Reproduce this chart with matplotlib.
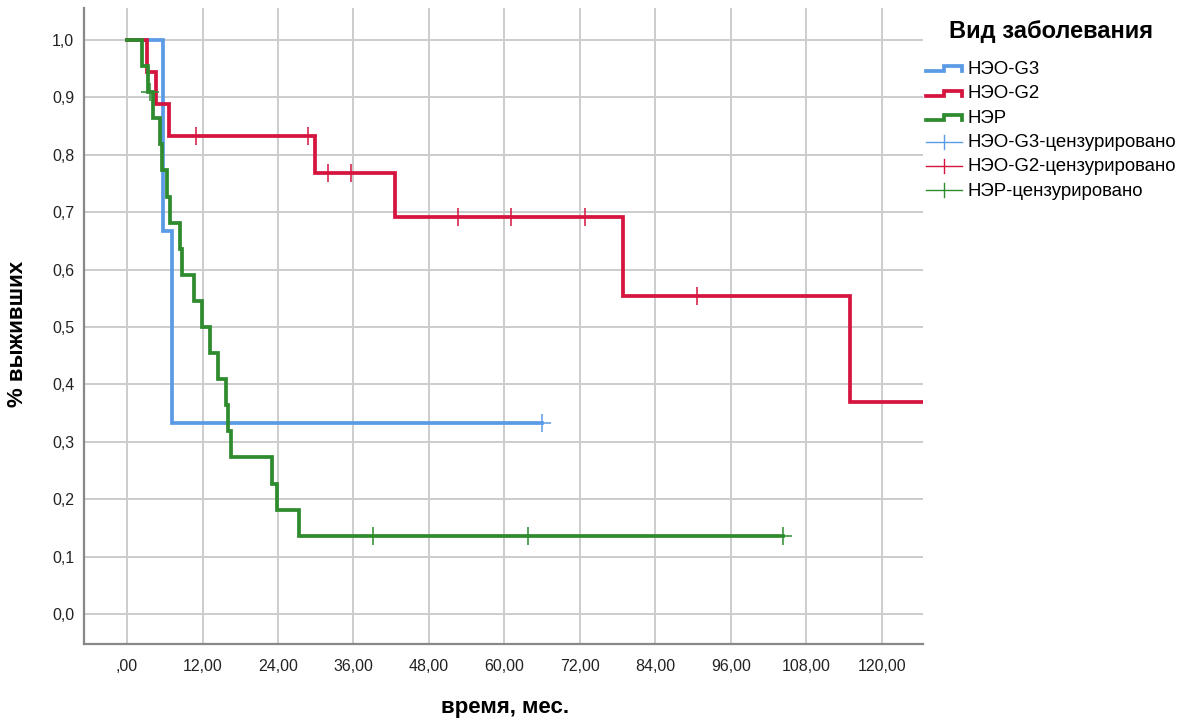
import matplotlib
matplotlib.use("Agg")
import matplotlib.pyplot as plt
import numpy as np
from matplotlib.lines import Line2D
from matplotlib.legend_handler import HandlerBase

plt.rcParams['font.family'] = ['Liberation Sans', 'DejaVu Sans']

# ---- data ----
g3_times = [0, 5.77, 7.15]
g3_surv = [1.0, 0.667, 0.333]
g3_end = 66.0
g3_cens = [66.0]

g2_times = [0, 3.1, 4.6, 6.7, 29.9, 42.6, 78.9, 115.0]
g2_surv = [1.0, 0.944, 0.889, 0.833, 0.769, 0.692, 0.554, 0.369]
g2_end = 130.0
g2_cens = [10.9, 28.8, 32.0, 35.6, 52.6, 61.0, 72.8, 90.6]

ner_times = [0, 2.4, 3.4, 4.1, 5.2, 5.5, 6.4, 6.8, 8.5, 8.7, 10.7, 11.9,
             13.2, 14.5, 15.8, 16.0, 16.5, 23.1, 23.8, 27.3]
ner_surv = [1.0, 0.955, 0.909, 0.864, 0.818, 0.773, 0.727, 0.682, 0.636,
            0.591, 0.545, 0.5, 0.455, 0.409, 0.364, 0.318, 0.273, 0.227,
            0.182, 0.136]
ner_end = 104.3
ner_cens = [3.7, 39.1, 63.8, 104.3]

x_ticks = [0, 12, 24, 36, 48, 60, 72, 84, 96, 108, 120]
x_ticklabels = [',00', '12,00', '24,00', '36,00', '48,00', '60,00', '72,00',
                '84,00', '96,00', '108,00', '120,00']
y_ticks = [0.0, 0.1, 0.2, 0.3, 0.4, 0.5, 0.6, 0.7, 0.8, 0.9, 1.0]
y_ticklabels = ['0,0', '0,1', '0,2', '0,3', '0,4', '0,5', '0,6', '0,7', '0,8', '0,9', '1,0']

names = ['НЭО-G3', 'НЭО-G2', 'НЭР']
cens_names = ['НЭО-G3-цензурировано', 'НЭО-G2-цензурировано', 'НЭР-цензурировано']
colors = ['#5B9BE6', '#D5143F', '#2E8C2E']

series = [
    (g3_times, g3_surv, g3_end, g3_cens),
    (g2_times, g2_surv, g2_end, g2_cens),
    (ner_times, ner_surv, ner_end, ner_cens),
]

fig = plt.figure(figsize=(11.88, 7.22), dpi=100)
ax = fig.add_axes([84 / 1188, 1 - 644 / 722, (923 - 84) / 1188, (644 - 8) / 722])

line_handles = []
cens_handles = []
for i, ((t, s, end, cens), c) in enumerate(zip(series, colors)):
    tt = list(t) + [end]
    ss = list(s) + [s[-1]]
    ln, = ax.step(tt, ss, where='post', color=c, lw=2.7, zorder=3 + i,
                  solid_joinstyle='miter')
    line_handles.append(ln)
    idx = np.searchsorted(t, cens, side='right') - 1
    cs = [s[k] for k in idx]
    cm, = ax.plot(cens, cs, linestyle='none', marker='+', markersize=13,
                  markeredgewidth=1.1, color=c, zorder=3 + i)
    cens_handles.append(cm)

ax.set_xlim(-6.84, 126.55)
ax.set_ylim(-0.0523, 1.0557)
ax.set_xticks(x_ticks)
ax.set_xticklabels(x_ticklabels)
ax.set_yticks(y_ticks)
ax.set_yticklabels(y_ticklabels)
ax.tick_params(axis='both', length=0, labelsize=11.5, colors='#222222')
ax.tick_params(axis='x', pad=11)
ax.tick_params(axis='y', pad=7)
ax.grid(True, color='#CCCCCC', lw=1.4, zorder=0)
ax.set_axisbelow(True)
for side in ['top', 'right']:
    ax.spines[side].set_visible(False)
for side in ['left', 'bottom']:
    ax.spines[side].set_color('#888888')
    ax.spines[side].set_linewidth(1.6)

fig.text(505 / 1188, 1 - 707 / 722, 'время, мес.', ha='center', va='center',
         fontsize=16, fontweight='bold')
fig.text(18 / 1188, 1 - 334 / 722, '% выживших', ha='center', va='center',
         rotation=90, fontsize=16, fontweight='bold')


class StepHandler(HandlerBase):
    def create_artists(self, legend, orig_handle, xdescent, ydescent,
                       width, height, fontsize, trans):
        x0, y0 = -xdescent, -ydescent
        xs = [x0, x0 + 0.5 * width, x0 + 0.5 * width, x0 + width, x0 + width]
        lo, hi = y0 + 0.2 * height, y0 + 0.6 * height
        ys = [lo, lo, hi, hi, lo]
        l = Line2D(xs, ys, color=orig_handle.get_color(), lw=2.7,
                   solid_joinstyle='miter', transform=trans)
        return [l]


class CensHandler(HandlerBase):
    def create_artists(self, legend, orig_handle, xdescent, ydescent,
                       width, height, fontsize, trans):
        x0, y0 = -xdescent, -ydescent
        ym = y0 + 0.4 * height
        c = orig_handle.get_color()
        h = Line2D([x0, x0 + width], [ym, ym], color=c, lw=1.0, transform=trans)
        v = Line2D([x0 + 0.5 * width] * 2, [ym - 0.55 * height, ym + 0.55 * height],
                   color=c, lw=1.0, transform=trans)
        return [h, v]


hmap = {h: StepHandler() for h in line_handles}
hmap.update({h: CensHandler() for h in cens_handles})
leg = fig.legend(line_handles + cens_handles, names + cens_names,
                 handler_map=hmap, loc='upper left',
                 bbox_to_anchor=(926 / 1188, 1 - 20 / 722),
                 frameon=False, fontsize=13.4, title='Вид заболевания',
                 title_fontproperties={'weight': 'bold', 'size': 17},
                 handlelength=1.95, handletextpad=0.27, labelspacing=0.39,
                 borderpad=0, borderaxespad=0)
leg._legend_box.sep = 13

fig.savefig('out.png', dpi=100)
